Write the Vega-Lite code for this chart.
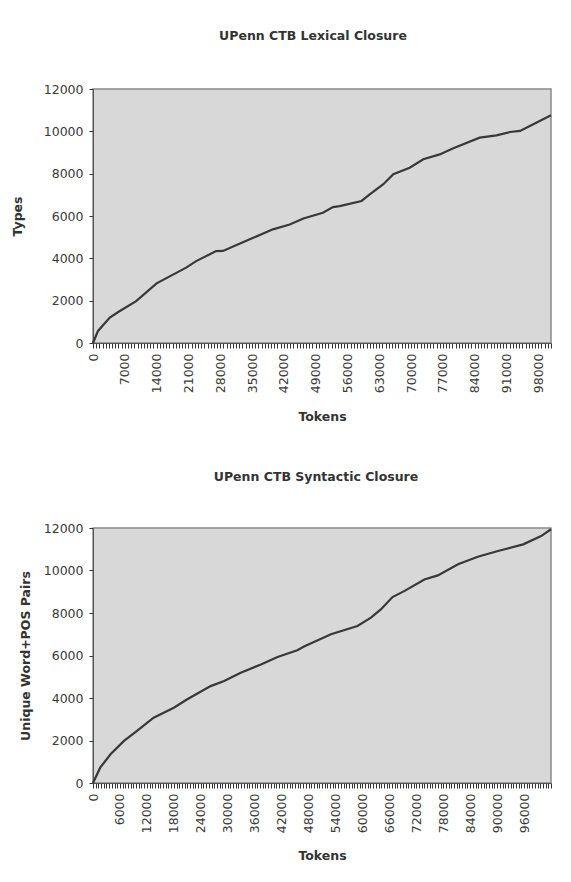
{
  "$schema": "https://vega.github.io/schema/vega-lite/v6.json",
  "background": "white",
  "padding": {"left": 10, "top": 28, "right": 18, "bottom": 10},
  "spacing": 185,
  "bounds": "flush",
  "config": {
    "font": "DejaVu Sans",
    "view": {"fill": "#d8d8d8", "stroke": "#8a8a8a", "strokeWidth": 1.5},
    "axis": {"labelFont": "DejaVu Sans", "labelFontSize": 12.5, "labelColor": "#3a3a3a", "titleFont": "DejaVu Sans", "titleFontSize": 12.5, "titleFontWeight": "bold", "titleColor": "#333333", "domainColor": "#555555", "tickColor": "#333333", "tickWidth": 1, "tickSize": 5, "grid": false},
    "title": {"font": "DejaVu Sans", "fontSize": 12.5, "fontWeight": "bold", "color": "#333333"}
  },
  "vconcat": [
    {
      "title": {"text": "UPenn CTB Lexical Closure", "dx": -9, "offset": 41},
      "width": 458,
      "height": 254,
      "data": {"values": [
        {"tokens": 0, "types": 0},
        {"tokens": 1100, "types": 570},
        {"tokens": 3700, "types": 1200},
        {"tokens": 5900, "types": 1510},
        {"tokens": 9500, "types": 1980},
        {"tokens": 14000, "types": 2820},
        {"tokens": 20500, "types": 3560},
        {"tokens": 22700, "types": 3870},
        {"tokens": 27100, "types": 4340},
        {"tokens": 28600, "types": 4350},
        {"tokens": 34500, "types": 4900},
        {"tokens": 39600, "types": 5370},
        {"tokens": 43300, "types": 5600},
        {"tokens": 46300, "types": 5880},
        {"tokens": 50600, "types": 6150},
        {"tokens": 52800, "types": 6420},
        {"tokens": 54300, "types": 6470},
        {"tokens": 59100, "types": 6710},
        {"tokens": 60900, "types": 7020},
        {"tokens": 63900, "types": 7500},
        {"tokens": 66100, "types": 7970},
        {"tokens": 69700, "types": 8280},
        {"tokens": 72700, "types": 8680},
        {"tokens": 76300, "types": 8910},
        {"tokens": 79300, "types": 9200},
        {"tokens": 85100, "types": 9700},
        {"tokens": 88800, "types": 9810},
        {"tokens": 91800, "types": 9970},
        {"tokens": 94000, "types": 10020},
        {"tokens": 96900, "types": 10330},
        {"tokens": 100800, "types": 10760}
      ]},
      "mark": {"type": "line", "color": "#383838", "strokeWidth": 2.2},
      "encoding": {
        "x": {"field": "tokens", "type": "quantitative", "scale": {"domain": [0, 100800], "nice": false},
          "axis": {"title": "Tokens", "format": "d", "labelAngle": -90, "labelOverlap": false, "labelPadding": 5, "titlePadding": 18,
            "labelExpr": "datum.value % 7000 === 0 ? datum.label : ''",
            "values": [0,700,1400,2100,2800,3500,4200,4900,5600,6300,7000,7700,8400,9100,9800,10500,11200,11900,12600,13300,14000,14700,15400,16100,16800,17500,18200,18900,19600,20300,21000,21700,22400,23100,23800,24500,25200,25900,26600,27300,28000,28700,29400,30100,30800,31500,32200,32900,33600,34300,35000,35700,36400,37100,37800,38500,39200,39900,40600,41300,42000,42700,43400,44100,44800,45500,46200,46900,47600,48300,49000,49700,50400,51100,51800,52500,53200,53900,54600,55300,56000,56700,57400,58100,58800,59500,60200,60900,61600,62300,63000,63700,64400,65100,65800,66500,67200,67900,68600,69300,70000,70700,71400,72100,72800,73500,74200,74900,75600,76300,77000,77700,78400,79100,79800,80500,81200,81900,82600,83300,84000,84700,85400,86100,86800,87500,88200,88900,89600,90300,91000,91700,92400,93100,93800,94500,95200,95900,96600,97300,98000,98700,99400,100100,100800]}},
        "y": {"field": "types", "type": "quantitative", "scale": {"domain": [0, 12000], "nice": false},
          "axis": {"title": "Types", "format": "d", "values": [0,2000,4000,6000,8000,10000,12000], "tickSize": 4, "labelPadding": 6, "titlePadding": 19}}
      }
    },
    {
      "title": {"text": "UPenn CTB Syntactic Closure", "dx": -6, "offset": 39},
      "width": 458,
      "height": 255,
      "data": {"values": [
        {"tokens": 0, "pairs": 0},
        {"tokens": 1600, "pairs": 720},
        {"tokens": 3900, "pairs": 1350},
        {"tokens": 6900, "pairs": 1980},
        {"tokens": 9800, "pairs": 2450},
        {"tokens": 13500, "pairs": 3070},
        {"tokens": 18000, "pairs": 3540},
        {"tokens": 21000, "pairs": 3940},
        {"tokens": 26200, "pairs": 4560},
        {"tokens": 29200, "pairs": 4800},
        {"tokens": 32900, "pairs": 5190},
        {"tokens": 37400, "pairs": 5580},
        {"tokens": 41100, "pairs": 5930},
        {"tokens": 45500, "pairs": 6250},
        {"tokens": 47000, "pairs": 6420},
        {"tokens": 53000, "pairs": 7000},
        {"tokens": 58900, "pairs": 7390},
        {"tokens": 61900, "pairs": 7780},
        {"tokens": 64100, "pairs": 8170},
        {"tokens": 66700, "pairs": 8750},
        {"tokens": 69400, "pairs": 9040},
        {"tokens": 73800, "pairs": 9580},
        {"tokens": 76800, "pairs": 9770},
        {"tokens": 81300, "pairs": 10290},
        {"tokens": 85700, "pairs": 10650},
        {"tokens": 90200, "pairs": 10920},
        {"tokens": 95800, "pairs": 11230},
        {"tokens": 99800, "pairs": 11620},
        {"tokens": 102000, "pairs": 11940}
      ]},
      "mark": {"type": "line", "color": "#383838", "strokeWidth": 2.2},
      "encoding": {
        "x": {"field": "tokens", "type": "quantitative", "scale": {"domain": [0, 102000], "nice": false},
          "axis": {"title": "Tokens", "format": "d", "labelAngle": -90, "labelOverlap": false, "labelPadding": 5, "titlePadding": 17,
            "labelExpr": "datum.value % 6000 === 0 && datum.value < 100000 ? datum.label : ''",
            "values": [0,600,1200,1800,2400,3000,3600,4200,4800,5400,6000,6600,7200,7800,8400,9000,9600,10200,10800,11400,12000,12600,13200,13800,14400,15000,15600,16200,16800,17400,18000,18600,19200,19800,20400,21000,21600,22200,22800,23400,24000,24600,25200,25800,26400,27000,27600,28200,28800,29400,30000,30600,31200,31800,32400,33000,33600,34200,34800,35400,36000,36600,37200,37800,38400,39000,39600,40200,40800,41400,42000,42600,43200,43800,44400,45000,45600,46200,46800,47400,48000,48600,49200,49800,50400,51000,51600,52200,52800,53400,54000,54600,55200,55800,56400,57000,57600,58200,58800,59400,60000,60600,61200,61800,62400,63000,63600,64200,64800,65400,66000,66600,67200,67800,68400,69000,69600,70200,70800,71400,72000,72600,73200,73800,74400,75000,75600,76200,76800,77400,78000,78600,79200,79800,80400,81000,81600,82200,82800,83400,84000,84600,85200,85800,86400,87000,87600,88200,88800,89400,90000,90600,91200,91800,92400,93000,93600,94200,94800,95400,96000,96600,97200,97800,98400,99000,99600,100200,100800,101400,102000]}},
        "y": {"field": "pairs", "type": "quantitative", "scale": {"domain": [0, 12000], "nice": false},
          "axis": {"title": "Unique Word+POS Pairs", "format": "d", "values": [0,2000,4000,6000,8000,10000,12000], "tickSize": 4, "labelPadding": 6, "titlePadding": 11}}
      }
    }
  ]
}
